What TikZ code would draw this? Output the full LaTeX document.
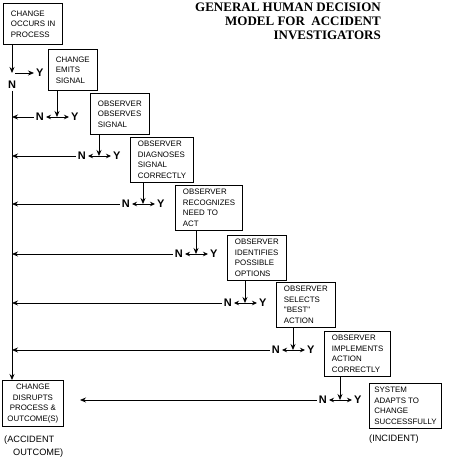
\documentclass[tikz,border=0pt]{standalone}
\usepackage{fontspec}
\newfontfamily\boxfont{Liberation Sans}
\newfontfamily\titlefont{Liberation Serif}
\usetikzlibrary{arrows.meta}
\tikzset{
  stage/.style={draw, line width=0.9pt, anchor=north west, align=left, inner xsep=7.5pt, inner ysep=4pt, minimum height=41pt, font=\boxfont\fontsize{7.9}{10.4}\selectfont},
  yn/.style={font=\boxfont\bfseries\fontsize{11}{12}\selectfont, inner sep=2pt},
  flow/.style={-{Stealth[length=6pt,width=5pt]}, line width=0.8pt},
  both/.style={{Stealth[length=5pt,width=4.5pt]}-{Stealth[length=5pt,width=4.5pt]}, line width=0.8pt},
  remark/.style={font=\boxfont\fontsize{9.2}{12.5}\selectfont, anchor=north west, align=left, inner sep=0pt}
}
\begin{document}
\begin{tikzpicture}[x=1pt,y=-1pt]
    \useasboundingbox (0,0) rectangle (450,469);
    \node[anchor=north east, align=right, inner sep=0pt, font=\titlefont\bfseries\fontsize{13}{14}\selectfont] (title) at (381,3) {GENERAL HUMAN DECISION\\MODEL FOR\ \ ACCIDENT\\INVESTIGATORS};
    % stages of the model
    \node[stage] (occurs) at (3,3) {CHANGE\\OCCURS IN\\PROCESS};
    \node[stage] (emits) at (48,49) {CHANGE\\EMITS\\SIGNAL};
    \node[stage] (observes) at (90,93) {OBSERVER\\OBSERVES\\SIGNAL};
    \node[stage] (diagnoses) at (130,137) {OBSERVER\\DIAGNOSES\\SIGNAL\\CORRECTLY};
    \node[stage] (recognizes) at (175,185) {OBSERVER\\RECOGNIZES\\NEED TO\\ACT};
    \node[stage] (identifies) at (227,235) {OBSERVER\\IDENTIFIES\\POSSIBLE\\OPTIONS};
    \node[stage] (selects) at (276,282) {OBSERVER\\SELECTS\\"BEST"\\ACTION};
    \node[stage] (implements) at (324,331) {OBSERVER\\IMPLEMENTS\\ACTION\\CORRECTLY};
    \node[stage, inner xsep=5pt] (adapts) at (369,383) {SYSTEM\\ADAPTS TO\\CHANGE\\SUCCESSFULLY};
    \node[stage, align=center, inner xsep=5pt] (disrupts) at (2,380) {CHANGE\\DISRUPTS\\PROCESS \&\\OUTCOME(S)};
    \node[remark] (accident) at (4,436) {(ACCIDENT\\\hspace*{9pt}OUTCOME)};
    \node[remark] (incident) at (369,435) {(INCIDENT)};
    % first decision and the main line
    \coordinate (j0) at (12,73);
    \draw[flow] (j0 |- occurs.south) -- (j0);
    \node[yn, anchor=west] (y0) at (34,73) {Y};
    \draw[flow] ([xshift=3pt]j0) -- (y0.west);
    \node[yn, anchor=north] (n0) at (12,79) {N};
    \draw[flow] (n0.south) -- (n0.south |- disrupts.north);
    \coordinate (miss) at (80,400);
    % the other decisions
    \foreach \src/\jx/\jy/\dest [count=\i] in {emits/57/117/n0, observes/99/156/n0, diagnoses/143/204/n0, recognizes/196/254/n0, identifies/245/303/n0, selects/293/350/n0, implements/340/400/miss} {
        \coordinate (j\i) at (\jx,\jy);
        \node[yn, anchor=east] (n\i) at (\jx-11,\jy) {N};
        \node[yn, anchor=west] (y\i) at (\jx+12,\jy) {Y};
        \draw[both] (n\i.east) -- (y\i.west);
        \draw[flow] (j\i |- \src.south) -- (j\i);
        \draw[flow] (n\i.west) -- (n\i.west -| \dest);
    }
\end{tikzpicture}
\end{document}
